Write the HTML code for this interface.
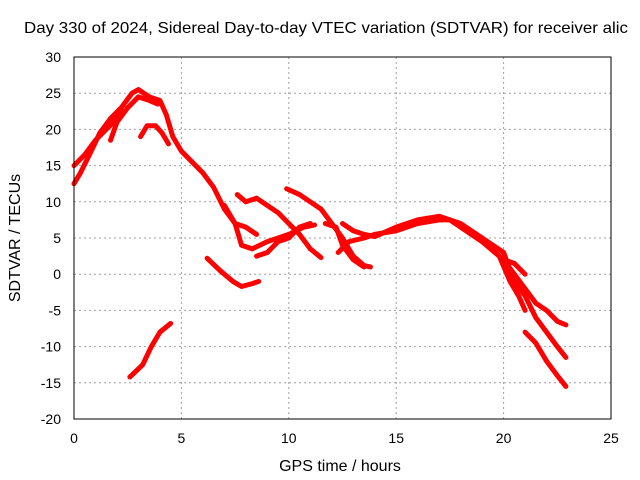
<!DOCTYPE html>
<html><head><meta charset="utf-8"><style>
body{margin:0;background:#fff;}
svg{display:block;font-family:"Liberation Sans",sans-serif;}
</style></head><body>
<svg id="chart" width="640" height="480">
<text x="24" y="33" font-size="16" textLength="604" lengthAdjust="spacingAndGlyphs">Day 330 of 2024, Sidereal Day-to-day VTEC variation (SDTVAR) for receiver alic</text>
<text x="340" y="471" font-size="16" text-anchor="middle">GPS time / hours</text>
<text transform="translate(20,238) rotate(-90)" font-size="16" text-anchor="middle">SDTVAR / TECUs</text>
<g id="grid"></g><g id="ticks"></g><g id="series"></g>
<rect x="74" y="57" width="537" height="362" fill="none" stroke="#000" stroke-width="1"/>
</svg>
<script>
const xTicks=[0,5,10,15,20,25];
const yTicks=[-20,-15,-10,-5,0,5,10,15,20,25,30];
const trackA=[[0,12.5],[0.3,14],[0.8,17],[1.2,19.5],[1.7,21.5],[2.2,23],[2.7,25],[3,25.5],[3.5,24.5],[4,24],[4.3,22],[4.6,19],[5,17],[5.5,15.5],[6,14],[6.5,12],[7,9],[7.5,7],[8,6.5],[8.5,5.5]];
const trackB=[[0,15],[0.5,16.5],[1,18.5],[1.5,20],[2,21.5],[2.3,22.5]];
const trackC=[[1.7,18.5],[2,21],[2.5,23],[3,24.5],[3.5,24],[3.9,23.5]];
const trackD=[[3.1,19],[3.4,20.5],[3.8,20.5],[4.1,19.5],[4.4,18]];
const trackE=[[2.6,-14.2],[3.2,-12.5],[3.6,-10],[4,-8],[4.5,-6.8]];
const trackF=[[6.2,2.2],[6.8,0.5],[7.4,-1],[7.8,-1.7],[8.3,-1.3],[8.6,-1]];
const trackG=[[7,9.5],[7.5,7],[7.8,4],[8.3,3.5],[9,4.5],[10,5.5],[10.7,6.5],[11.2,6.8]];
const trackH=[[7.6,11],[8,10],[8.5,10.5],[9,9.5],[9.5,8.5],[10,7],[10.5,5.5],[11,3.5],[11.5,2.3]];
const trackJ=[[8.5,2.5],[9,3],[9.5,4.5],[10,5],[10.5,6.5],[11,7]];
const trackK=[[9.9,11.8],[10.5,11],[11,10],[11.5,9],[12,7],[12.5,5],[13,2.5],[13.5,1.2],[13.8,1]];
const trackL=[[11.7,7],[12.2,6.5],[12.5,4],[13,2],[13.5,1]];
const trackM=[[12.3,3],[12.8,4.5],[13.5,5],[14,5.5],[15,6],[16,7],[17,7.5],[17.5,7.5],[18,6.5],[19,4.5],[20,2],[20.5,1.5],[21,0]];
const trackN=[[12.5,7],[13,6],[13.5,5.5],[14,5.2],[15,6.5],[16,7.5],[17,8],[18,7],[19,5],[20,3],[20.5,-1],[21,-3],[21.5,-6],[22,-8],[22.5,-10],[22.9,-11.5]];
const trackO=[[20,2],[20.5,0],[21,-2],[21.5,-4],[22,-5],[22.5,-6.5],[22.9,-7]];
const trackP=[[21,-8],[21.5,-9.5],[22,-12],[22.5,-14],[22.9,-15.5]];
const trackQ=[[19,4.5],[19.8,2.5],[20.3,-1],[20.7,-3],[21,-5]];
const tracks=[trackA,trackB,trackC,trackD,trackE,trackF,trackG,trackH,trackJ,trackK,trackL,trackM,trackN,trackO,trackP,trackQ];
const NS="http://www.w3.org/2000/svg";
const X=v=>74+(v-0)*537/25;
const Y=v=>419-(v+20)*362/50;
const grid=document.getElementById('grid'),ticks=document.getElementById('ticks'),ser=document.getElementById('series');
function mk(t,a,p){const e=document.createElementNS(NS,t);for(const k in a)e.setAttribute(k,a[k]);p.appendChild(e);return e;}
xTicks.forEach(v=>{
 const g=mk('line',{x1:X(v),x2:X(v),y1:57,y2:419,stroke:'#a0a0a0','stroke-dasharray':'2,3'},grid);
 
 
 const t=mk('text',{x:X(v),y:443,'font-size':14,'text-anchor':'middle'},ticks);t.textContent=v;
 
 
});
yTicks.forEach(v=>{
 const g=mk('line',{x1:74,x2:611,y1:Y(v),y2:Y(v),stroke:'#a0a0a0','stroke-dasharray':'2,3'},grid);
 
 
 const t=mk('text',{x:61,y:Y(v)+5,'font-size':14,'text-anchor':'end'},ticks);t.textContent=v;
 
 
});
tracks.forEach(tr=>{
 const p=mk('polyline',{points:tr.map(d=>X(d[0])+','+Y(d[1])).join(' '),fill:'none',stroke:'#ff0000','stroke-width':5,'stroke-linejoin':'round','stroke-linecap':'round'},ser);
 
 
});
</script>
</body></html>
